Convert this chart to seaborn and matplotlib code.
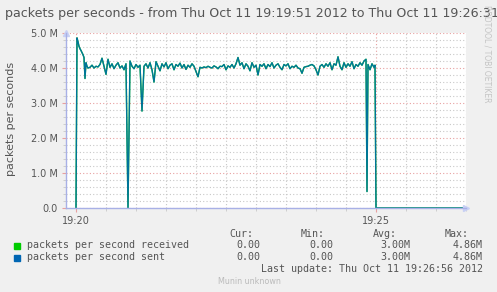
import numpy as np
import pandas as pd
import matplotlib
matplotlib.use("Agg")
import matplotlib.pyplot as plt
from matplotlib.ticker import MultipleLocator, FixedLocator, FixedFormatter
from matplotlib.patches import Rectangle
import seaborn as sns

# ---- data (seconds relative to 19:20:00, values in millions of packets/s) ----
seconds = ([0, 1, 2, 3, 4, 5, 6, 7, 8, 9, 10, 11, 12]
           + list(range(14, 292, 2))
           + [291, 292, 294, 296, 298, 299, 300, 390])

received = [
    0.0, 4.86, 4.75, 4.62, 4.55, 4.50, 4.44, 4.38, 4.30, 3.70, 4.15, 4.05, 4.00,
    # 14 .. 290 step 2
    4.02, 4.08, 4.00, 4.05, 4.03, 4.10, 4.28, 4.05, 3.82, 4.25,
    4.02, 4.12, 3.98, 4.08, 4.15, 4.00, 4.06, 3.95, 4.12, 0.00,
    4.20, 4.05, 3.98, 4.10, 4.02, 4.08, 2.77, 4.05, 4.12, 4.00,
    4.15, 3.95, 3.60, 4.18, 4.05, 3.92, 4.12, 4.03, 4.15, 3.98,
    4.08, 4.12, 3.95, 4.10, 4.05, 4.14, 4.00, 4.10, 3.96, 4.08,
    4.02, 4.12, 4.05, 3.90, 3.75, 4.02, 4.00, 4.03, 4.01, 4.05,
    4.02, 4.00, 4.06, 4.03, 3.98, 4.05, 4.04, 4.10, 3.95, 4.06,
    4.02, 4.10, 4.00, 4.12, 4.30, 4.08, 4.15, 3.98, 4.12, 4.05,
    3.92, 4.15, 4.02, 4.08, 3.80, 4.10, 4.05, 4.12, 3.98, 4.10,
    4.04, 4.15, 4.00, 4.08, 4.12, 4.02, 3.95, 4.10, 4.06, 4.12,
    3.98, 4.05, 4.02, 4.08, 4.00, 3.98, 3.85, 4.02, 4.04, 4.05,
    4.08, 4.10, 4.06, 3.95, 3.80, 4.05, 4.10, 4.02, 4.12, 4.05,
    4.15, 3.95, 4.12, 4.08, 4.32, 4.05, 3.95, 4.15, 4.02, 4.12,
    4.05, 4.18, 3.98, 4.10, 4.05, 4.15, 4.08, 4.20, 4.25,
    # tail
    0.47, 4.10, 3.95, 4.12, 4.02, 4.08, 0.00, 0.00,
]
sent = list(received)

y_ticks = [0, 1, 2, 3, 4, 5]
y_tick_labels = ["0.0", "1.0 M", "2.0 M", "3.0 M", "4.0 M", "5.0 M"]
x_ticks = [0, 300]
x_tick_labels = ["19:20", "19:25"]

legend_names = ["packets per second received", "packets per second sent"]
legend_colors = ["#00cc00", "#0066b3"]
cur_vals = ["0.00", "0.00"]
min_vals = ["0.00", "0.00"]
avg_vals = ["3.00M", "3.00M"]
max_vals = ["4.86M", "4.86M"]

df = pd.DataFrame({"t": seconds, "received": received, "sent": sent})

# ---- figure ----
W, H = 497, 292
fig = plt.figure(figsize=(W / 100, H / 100), dpi=100)
fig.patch.set_facecolor("#f0f0f0")
ax = fig.add_axes([66 / W, (H - 208) / H, 400 / W, 175 / H])
ax.set_facecolor("white")

def fx(px):
    return px / W

def fy(py):
    return 1 - py / H

# grid
ax.set_xlim(-10, 390)
ax.set_ylim(0, 5)
ax.yaxis.set_major_locator(FixedLocator(y_ticks))
ax.yaxis.set_major_formatter(FixedFormatter(y_tick_labels))
ax.yaxis.set_minor_locator(MultipleLocator(0.2))
ax.xaxis.set_major_locator(FixedLocator(x_ticks))
ax.xaxis.set_major_formatter(FixedFormatter(x_tick_labels))
ax.xaxis.set_minor_locator(MultipleLocator(30))
ax.grid(which="minor", color="#c8c8c8", linestyle=(0, (1, 2)), linewidth=0.8)
ax.grid(which="major", color="#e8a0a0", linestyle=(0, (1, 2)), linewidth=0.8)
ax.set_axisbelow(True)

for s in ["top", "right"]:
    ax.spines[s].set_visible(False)
for s in ["left", "bottom"]:
    ax.spines[s].set_color("#a8b0e6")
    ax.spines[s].set_linewidth(1.0)

ax.tick_params(which="major", length=3, width=0.8, color="#e8a0a0",
               labelsize=7, labelcolor="#555555", pad=3)
ax.tick_params(which="minor", length=2, width=0.6, color="#c8c8c8")

# data lines
sns.lineplot(data=df, x="t", y="received", ax=ax, color=legend_colors[0],
             linewidth=1.0, estimator=None, clip_on=False)
sns.lineplot(data=df, x="t", y="sent", ax=ax, color=legend_colors[1],
             linewidth=0.95, alpha=0.87, estimator=None, clip_on=False)
ax.set_xlabel("")
ax.set_ylabel("")

# axis arrows
ax.plot([0], [1.0], marker="^", markersize=4, color="#c8d0f4",
        transform=ax.transAxes, clip_on=False)
ax.plot([1.0], [0], marker=">", markersize=4, color="#c8d0f4",
        transform=ax.transAxes, clip_on=False)

# title and labels
fig.text(fx(5), fy(13), "packets per seconds - from Thu Oct 11 19:19:51 2012 to Thu Oct 11 19:26:31",
         fontsize=9.1, color="#555555", ha="left", va="center")
fig.text(fx(11), fy(119), "packets per seconds", fontsize=8, color="#555555",
         rotation=90, ha="center", va="center")
fig.text(fx(487), fy(5), "RRDTOOL / TOBI OETIKER", fontsize=5.5, color="#c4c4c4",
         rotation=270, ha="center", va="top")

# legend table
mono = dict(family="DejaVu Sans Mono", fontsize=7.2, color="#555555", va="center")
fig.text(fx(253), fy(234), "Cur:", ha="right", **mono)
fig.text(fx(325), fy(234), "Min:", ha="right", **mono)
fig.text(fx(397), fy(234), "Avg:", ha="right", **mono)
fig.text(fx(469), fy(234), "Max:", ha="right", **mono)
rows_y = [245.5, 257.5]
for i, ry in enumerate(rows_y):
    fig.patches.append(Rectangle((fx(14), fy(ry + 3)), 6 / W, 6 / H,
                                 transform=fig.transFigure, color=legend_colors[i]))
    fig.text(fx(27), fy(ry), legend_names[i], ha="left", **mono)
    fig.text(fx(260), fy(ry), cur_vals[i], ha="right", **mono)
    fig.text(fx(333), fy(ry), min_vals[i], ha="right", **mono)
    fig.text(fx(410), fy(ry), avg_vals[i], ha="right", **mono)
    fig.text(fx(483), fy(ry), max_vals[i], ha="right", **mono)
fig.text(fx(483), fy(269.5), "Last update: Thu Oct 11 19:26:56 2012", ha="right", **mono)
fig.text(fx(249), fy(281), "Munin unknown", fontsize=5.8, color="#bbbbbb",
         ha="center", va="center")

fig.savefig("out.png", dpi=100, facecolor=fig.get_facecolor())
